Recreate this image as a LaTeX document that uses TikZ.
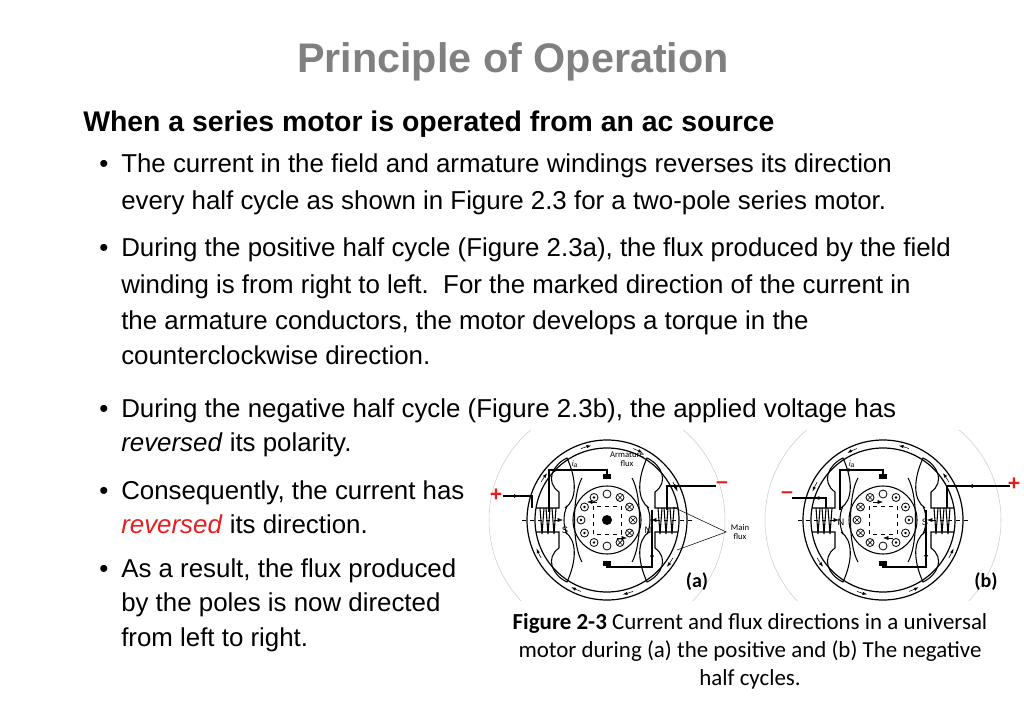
\documentclass[tikz,border=0pt]{standalone}
\usepackage{fontspec}
\setmainfont{Liberation Sans}
\newfontfamily\capfont{Carlito}
\usetikzlibrary{arrows.meta,decorations.markings}
\definecolor{ttl}{RGB}{128,128,128}
\definecolor{redt}{RGB}{230,30,30}
\tikzset{
  body/.style={anchor=base west,font=\fontsize{19.4}{22}\selectfont,inner sep=0},
  wire/.style={line width=0.9pt},
  arr/.style={-{Latex[length=4pt,width=3pt]}},
  marr/.style={decoration={markings,mark=at position #1 with {\arrow{Latex[length=4pt,width=3pt]}}},postaction={decorate}},
}
\newcommand{\statorpart}{%
  \draw[line width=0.9pt] (0,0) circle (80);
  \draw[line width=0.9pt] (0,0) circle (72);
  \foreach \a in {30,70,110,150,210,250,290,330}{
    \draw[-{Latex[length=3.5pt,width=2.5pt]}] (\a:76) arc (\a:\a+8:76);}
  \foreach \s in {1,-1}{
   \begin{scope}[xscale=\s]
    \draw[line width=0.8pt] (-71,-12) -- (-48,-12) -- (-48,-28) .. controls (-62,-38) and (-55,-55) .. (-40,-62)
       .. controls (-30,-40) and (-30,-20) .. (-42,-12);
    \draw[line width=0.8pt] (-71,12) -- (-48,12) -- (-48,28) .. controls (-62,38) and (-55,55) .. (-40,62)
       .. controls (-30,40) and (-30,20) .. (-42,12);
    \draw[line width=0.8pt] (-40,-14) .. controls (-44,-5) and (-44,5) .. (-40,14);
    \draw[line width=0.8pt] (-25,-42) .. controls (-35,-25) and (-35,25) .. (-25,42);
    \foreach \x in {-67,-61,-55}{
      \draw[line width=0.8pt] (\x,-12) -- (\x+2,14) -- (\x+4,-12);}
    \draw[dashed,arr] (-85,0) -- (-44,0);
   \end{scope}}
  \fill (-4,-46) rectangle (4,-41);
  \fill (-4,41) rectangle (4,46);
}
\newcommand{\rotor}[2]{%
  \draw[line width=0.8pt] (0,0) circle (34);
  \foreach \a in {0,30,...,330}{\draw[line width=0.6pt] (\a:26) circle (4);}
  \foreach \a in {120,150,180,210,240}{#1{\a}}
  \foreach \a in {-60,-30,0,30,60}{#2{\a}}
  \draw[dashed,line width=0.7pt] (-14,-14) rectangle (14,14);
}
\newcommand{\dotc}[1]{\fill (#1:26) circle (1.4);}
\newcommand{\crs}[1]{\draw[line width=0.5pt] (#1:26) ++(-2.6,-2.6) -- ++(5.2,5.2) ++(-5.2,0) -- ++(5.2,-5.2);}
\begin{document}
\begin{tikzpicture}[x=0.75pt,y=-0.75pt]
\useasboundingbox (0,0) rectangle (1024,709);
\node[text=ttl,font=\bfseries\fontsize{31}{34}\selectfont] (title) at (513,62) {Principle of Operation};
\node[anchor=base west,inner sep=0,font=\bfseries\fontsize{21.3}{24}\selectfont] (head) at (83,132) {When a series motor is operated from an ac source};
\foreach \y/\t [count=\i] in {
 173/{The current in the field and armature windings reverses its direction},
 210/{every half cycle as shown in Figure 2.3 for a two-pole series motor.},
 257/{During the positive half cycle (Figure 2.3a), the flux produced by the field},
 293/{winding is from right to left.\ \ For the marked direction of the current in},
 329/{the armature conductors, the motor develops a torque in the},
 364/{counterclockwise direction.},
 417/{During the negative half cycle (Figure 2.3b), the applied voltage has},
 451/{\textit{reversed} its polarity.},
 499/{Consequently, the current has},
 533/{\textcolor{redt}{\textit{reversed}} its direction.},
 577/{As a result, the flux produced},
 611/{by the poles is now directed},
 646/{from left to right.}}
 {\node[body] (l\i) at (121,\y) {\t};}
\foreach \y/\n in {173/b1,257/b2,417/b3,499/b4,577/b5}
 \node[body] (\n) at (99,\y) {\textbullet};
\begin{scope}
\clip (480,430) rectangle (1024,600);
\draw[gray!40] (607,520) circle (118);
\draw[gray!40] (883,520) circle (118);
\end{scope}
\begin{scope}[shift={(607,520)}]
 \statorpart
 \rotor{\dotc}{\crs}
 \fill (0,0) circle (5);
 \draw[arr] (-10,-18) -- (-20,-18); \draw[arr] (10,18) -- (20,18);
\end{scope}
\begin{scope}[shift={(883,520)},xscale=-1]
 \statorpart
\end{scope}
\begin{scope}[shift={(883,520)}]
 \rotor{\crs}{\dotc}
 \draw[arr] (-10,-18) -- (0,-18); \draw[arr] (10,18) -- (0,18);
\end{scope}
\coordinate (pa) at (503,496);
\coordinate (ma) at (716,486);
\draw[wire,marr=0.4] (pa) -- (532,496) -- (532,508);
\draw[wire,marr=0.5] (549,512) -- (549,470) -- (607,470) -- (607,475);
\draw[wire,marr=0.6] (607,566) -- (607,567) -- (652,567) -- (652,510);
\draw[wire,marr=0.5] (667,510) -- (667,486) -- (ma);
\coordinate (mb) at (792,498);
\coordinate (pb) at (1010,486);
\draw[wire,marr=0.5] (826,508) -- (826,498) -- (mb);
\draw[wire,marr=0.5] (883,475) -- (883,470) -- (840,470) -- (840,510);
\draw[wire,marr=0.5] (926,510) -- (926,567) -- (883,567) -- (883,566);
\draw[wire,marr=0.5] (pb) -- (947,486) -- (947,508);
\node[text=redt,font=\bfseries\fontsize{16}{16}\selectfont] (pla) at (496,495) {+};
\node[text=redt,font=\bfseries\fontsize{16}{16}\selectfont] (mia) at (722,485) {--};
\node[text=redt,font=\bfseries\fontsize{16}{16}\selectfont] (mib) at (787,495) {--};
\node[text=redt,font=\bfseries\fontsize{16}{16}\selectfont] (plb) at (1014,484) {+};
\node[font=\fontsize{6}{7}\selectfont\itshape] (ia) at (575,464) {i\textsubscript{a}};
\node[font=\fontsize{6}{7}\selectfont\itshape] (ib) at (852,464) {i\textsubscript{a}};
\node[font=\capfont\fontsize{6.5}{7}\selectfont,align=center] (af) at (627,459) {Armature\\flux};
\node[font=\capfont\fontsize{6.5}{7}\selectfont,align=center] (mf) at (740,532) {Main\\flux};
\draw (mf.west) -- (673,507);
\draw (mf.west) -- (677,550);
\node[font=\fontsize{7}{7}\selectfont] at (565,530) {S};
\node[font=\fontsize{7}{7}\selectfont] at (648,530) {N};
\node[font=\fontsize{7}{7}\selectfont] at (841,522) {N};
\node[font=\fontsize{7}{7}\selectfont] at (925,522) {S};
\node[font=\capfont\bfseries\fontsize{15}{15}\selectfont] (la) at (697,582) {(a)};
\node[font=\capfont\bfseries\fontsize{15}{15}\selectfont] (lb) at (986,582) {(b)};
\node[font=\capfont\fontsize{17.2}{21}\selectfont,align=center] (cap) at (750,651) {\textbf{Figure 2-3} Current and flux directions in a universal\\motor during (a) the positive and (b) The negative\\half cycles.};
\end{tikzpicture}
\end{document}
